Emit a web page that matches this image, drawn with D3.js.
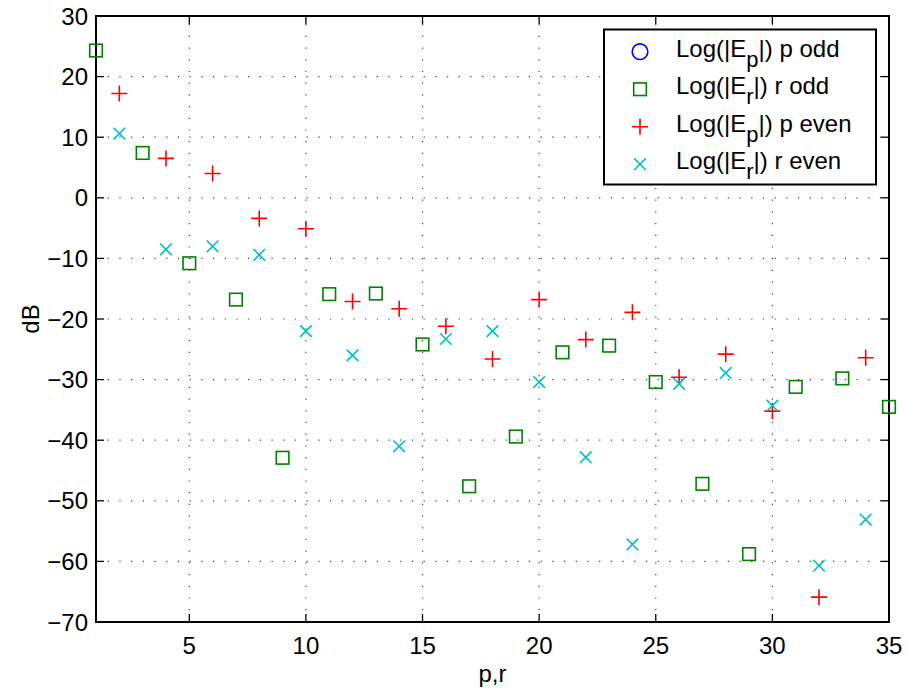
<!DOCTYPE html>
<html>
<head>
<meta charset="utf-8">
<script src="https://cdn.jsdelivr.net/npm/d3@7"></script>
<style>
  html, body { margin: 0; padding: 0; background: #fff; }
  svg { display: block; font-family: "Liberation Sans", Arial, Helvetica, sans-serif; }
</style>
</head>
<body>
<svg id="chart" width="907" height="694"></svg>
<script>
// Harmonic magnitudes in dB, indexed by harmonic number p / r
const oddOrders  = [1, 3, 5, 7, 9, 11, 13, 15, 17, 19, 21, 23, 25, 27, 29, 31, 33, 35];
const evenOrders = [2, 4, 6, 8, 10, 12, 14, 16, 18, 20, 22, 24, 26, 28, 30, 32, 34];

// |E_p| for odd p: no finite values in range
const pOddDb = [];
// |E_r| for odd r
const rOddDb = [24.3, 7.4, -10.8, -16.8, -42.9, -15.9, -15.8, -24.2, -47.6,
                -39.4, -25.5, -24.4, -30.4, -47.2, -58.8, -31.2, -29.8, -34.5];
// |E_p| for even p
const pEvenDb = [17.2, 6.5, 4.0, -3.4, -5.1, -17.1, -18.3, -21.2, -26.6,
                 -16.8, -23.4, -18.9, -29.6, -25.8, -35.2, -65.9, -26.4];
// |E_r| for even r
const rEvenDb = [10.6, -8.5, -8.0, -9.4, -22.0, -26.0, -41.0, -23.3, -22.0,
                 -30.4, -42.8, -57.2, -30.7, -28.9, -34.3, -60.7, -53.1];

const xTicks = [5, 10, 15, 20, 25, 30, 35];
const yTicks = [-70, -60, -50, -40, -30, -20, -10, 0, 10, 20, 30];

const legendItems = [
  { base: "Log(|E", sub: "p", rest: "|) p odd",  shape: "circle", color: "#0000ff" },
  { base: "Log(|E", sub: "r", rest: "|) r odd",  shape: "square", color: "#008000" },
  { base: "Log(|E", sub: "p", rest: "|) p even", shape: "plus",   color: "#ff0000" },
  { base: "Log(|E", sub: "r", rest: "|) r even", shape: "cross",  color: "#00bfbf" }
];

const svg = d3.select("#chart");
const box = { left: 96, top: 16, right: 889, bottom: 622 };

const x = d3.scaleLinear().domain([1, 35]).range([box.left, box.right]);
const y = d3.scaleLinear().domain([-70, 30]).range([box.bottom, box.top]);

// dotted grid
const grid = svg.append("g").attr("stroke", "#000").attr("stroke-width", 1.2)
  .attr("stroke-dasharray", "1.2,10.5").attr("opacity", 0.75);
grid.selectAll("line.gx").data(xTicks.filter(t => t < 35)).join("line")
  .attr("x1", d => x(d)).attr("x2", d => x(d))
  .attr("y1", box.bottom).attr("y2", box.top);
grid.selectAll("line.gy").data(yTicks.filter(t => t > -70 && t < 30)).join("line")
  .attr("y1", d => y(d)).attr("y2", d => y(d))
  .attr("x1", box.left).attr("x2", box.right);

// inward ticks on all four sides
const tickLen = 8;
const ticks = svg.append("g").attr("stroke", "#000").attr("stroke-width", 1.3);
xTicks.forEach(t => {
  ticks.append("line").attr("x1", x(t)).attr("x2", x(t)).attr("y1", box.bottom).attr("y2", box.bottom - tickLen);
  ticks.append("line").attr("x1", x(t)).attr("x2", x(t)).attr("y1", box.top).attr("y2", box.top + tickLen);
});
yTicks.forEach(t => {
  ticks.append("line").attr("y1", y(t)).attr("y2", y(t)).attr("x1", box.left).attr("x2", box.left + tickLen);
  ticks.append("line").attr("y1", y(t)).attr("y2", y(t)).attr("x1", box.right).attr("x2", box.right - tickLen);
});

// axes box
svg.append("rect")
  .attr("x", box.left).attr("y", box.top)
  .attr("width", box.right - box.left).attr("height", box.bottom - box.top)
  .attr("fill", "none").attr("stroke", "#000").attr("stroke-width", 2);

// tick labels
const labelFont = 24;
svg.append("g").selectAll("text").data(xTicks).join("text")
  .attr("x", d => x(d)).attr("y", 654)
  .attr("text-anchor", "middle").attr("font-size", labelFont)
  .text(d => d);
svg.append("g").selectAll("text").data(yTicks).join("text")
  .attr("x", 88).attr("y", d => y(d) + 8.5)
  .attr("text-anchor", "end").attr("font-size", labelFont)
  .text(d => d < 0 ? "\u2212" + Math.abs(d) : d);

// axis titles
svg.append("text").attr("x", (box.left + box.right) / 2).attr("y", 682)
  .attr("text-anchor", "middle").attr("font-size", labelFont).text("p,r");
svg.append("text").attr("transform", `translate(39,${(box.top + box.bottom) / 2}) rotate(-90)`)
  .attr("text-anchor", "middle").attr("font-size", labelFont).text("dB");

// marker drawing
function drawMarker(g, shape, color, cx, cy) {
  const s = g.append("g").attr("transform", `translate(${cx},${cy})`)
    .attr("fill", "none").attr("stroke", color).attr("stroke-width", 1.6);
  if (shape === "circle") {
    s.append("circle").attr("r", 7.8);
  } else if (shape === "square") {
    s.append("rect").attr("x", -6.3).attr("y", -6.3).attr("width", 12.6).attr("height", 12.6);
  } else if (shape === "plus") {
    s.append("path").attr("d", "M-8,0H8M0,-8V8");
  } else if (shape === "cross") {
    s.append("path").attr("d", "M-5.8,-5.8L5.8,5.8M-5.8,5.8L5.8,-5.8");
  }
}

const series = [
  { orders: oddOrders,  values: pOddDb,  shape: "circle", color: "#0000ff" },
  { orders: oddOrders,  values: rOddDb,  shape: "square", color: "#008000" },
  { orders: evenOrders, values: pEvenDb, shape: "plus",   color: "#ff0000" },
  { orders: evenOrders, values: rEvenDb, shape: "cross",  color: "#00bfbf" }
];
const marks = svg.append("g");
series.forEach(sr => {
  sr.values.forEach((v, i) => drawMarker(marks, sr.shape, sr.color, x(sr.orders[i]), y(v)));
});

// legend
const lg = svg.append("g");
lg.append("rect").attr("x", 604).attr("y", 29.5).attr("width", 272).attr("height", 155)
  .attr("fill", "#fff").attr("stroke", "#000").attr("stroke-width", 2);
legendItems.forEach((it, i) => {
  const cy = 51.7 + i * 37.5;
  drawMarker(lg, it.shape, it.color, 640, cy);
  const t = lg.append("text").attr("x", 676).attr("y", cy + 5).attr("font-size", 24);
  t.append("tspan").text(it.base);
  t.append("tspan").attr("dy", 10).attr("font-size", 22).text(it.sub);
  t.append("tspan").attr("dy", -10).text(it.rest);
});
</script>
</body>
</html>
